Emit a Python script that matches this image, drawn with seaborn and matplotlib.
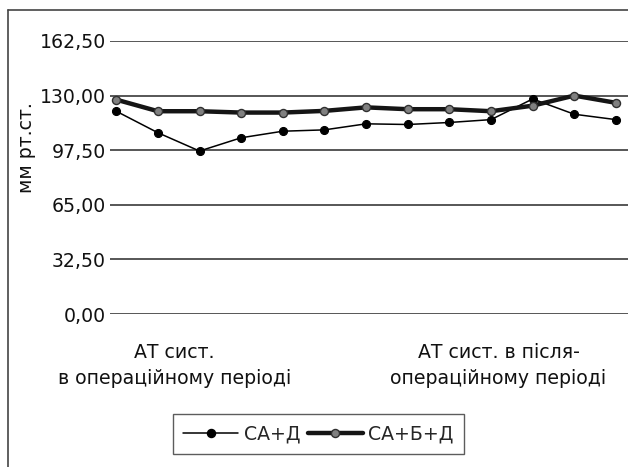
import matplotlib
matplotlib.use("Agg")
import matplotlib.pyplot as plt
import matplotlib.transforms as mtransforms
import seaborn as sns
import numpy as np
import pandas as pd
from matplotlib.lines import Line2D

sns.set_theme(style="white")
plt.rcParams['font.family'] = ['DejaVu Sans']

# Data
points = list(range(13))
sa_d = [120.7, 107.9, 97.0, 104.9, 108.8, 109.6, 113.2, 112.8, 114.0, 115.7, 128.0, 118.9, 115.7]
sa_b_d = [127.6, 120.7, 120.7, 119.9, 119.9, 120.9, 123.0, 121.9, 121.9, 120.7, 124.0, 130.0, 125.7]
series_names = ["СА+Д", "СА+Б+Д"]
y_ticks = [0, 32.5, 65, 97.5, 130, 162.5]
y_tick_labels = ["0,00", "32,50", "65,00", "97,50", "130,00", "162,50"]
x_label_lines = [
    (1.4, "АТ сист."), (1.4, "в операційному періоді"),
    (9.18, "АТ сист. в після-"), (9.18, "операційному періоді"),
]
y_label = "мм рт.ст."

df = pd.DataFrame({"x": points, "a": sa_d, "b": sa_b_d})

FS = 13.6
fig = plt.figure(figsize=(6.28, 4.67), dpi=100)
ax = fig.add_axes([110/628, 1-314/467, 1-110/628, (314-41)/467])

sns.lineplot(data=df, x="x", y="a", ax=ax, color="black", linewidth=1.1,
             marker="o", markersize=5.8, markerfacecolor="black",
             markeredgecolor="black", zorder=3)
sns.lineplot(data=df, x="x", y="b", ax=ax, color="#151515", linewidth=3.2,
             marker="o", markersize=5.8, markerfacecolor="#808080",
             markeredgecolor="#303030", markeredgewidth=1.0, zorder=4)

ax.set_xlim(-0.15, 12.29)
ax.set_ylim(0, 162.5)
ax.set_yticks(y_ticks)
ax.set_yticklabels(y_tick_labels, fontsize=FS)
ax.set_xticks([])
ax.tick_params(axis='y', length=0, pad=3, colors='#111111')
for y in y_ticks:
    ax.axhline(y, color="#3a3a3a", linewidth=1.2, zorder=1)
for s in ax.spines.values():
    s.set_visible(False)
ax.set_xlabel("")
ax.set_ylabel("")
ax.grid(False)

trans = mtransforms.blended_transform_factory(ax.transData, fig.transFigure)
for i, (xp, txt) in enumerate(x_label_lines):
    yb = 358 if i % 2 == 0 else 384
    ax.text(xp, 1 - yb/467, txt, transform=trans, ha='center', va='baseline',
            fontsize=FS, color='#111111', clip_on=False)

fig.text(27/628, 1-148/467, y_label, rotation=90, ha='center', va='center',
         fontsize=FS, color='#111111')

# figure frame (top and left edges)
fig.add_artist(Line2D([8/628, 8/628], [0, 1-10/467], transform=fig.transFigure,
                      color="#444444", linewidth=1.2))
fig.add_artist(Line2D([8/628, 1], [1-10/467, 1-10/467], transform=fig.transFigure,
                      color="#444444", linewidth=1.2))

handles = [
    Line2D([], [], color="black", linewidth=1.1, marker="o", markersize=5.8,
           markerfacecolor="black", markeredgecolor="black"),
    Line2D([], [], color="#151515", linewidth=3.2, marker="o", markersize=5.8,
           markerfacecolor="#808080", markeredgecolor="#303030"),
]
leg = fig.legend(handles, series_names, loc='center', bbox_to_anchor=(318.5/628, 1-434/467),
                 ncol=2, frameon=True, fancybox=False, edgecolor="#333333",
                 fontsize=FS, handlelength=2.9, handletextpad=0.3, columnspacing=0.4,
                 borderpad=0.55, borderaxespad=0)
leg.get_frame().set_linewidth(1.0)

fig.savefig("out.png", dpi=100)
